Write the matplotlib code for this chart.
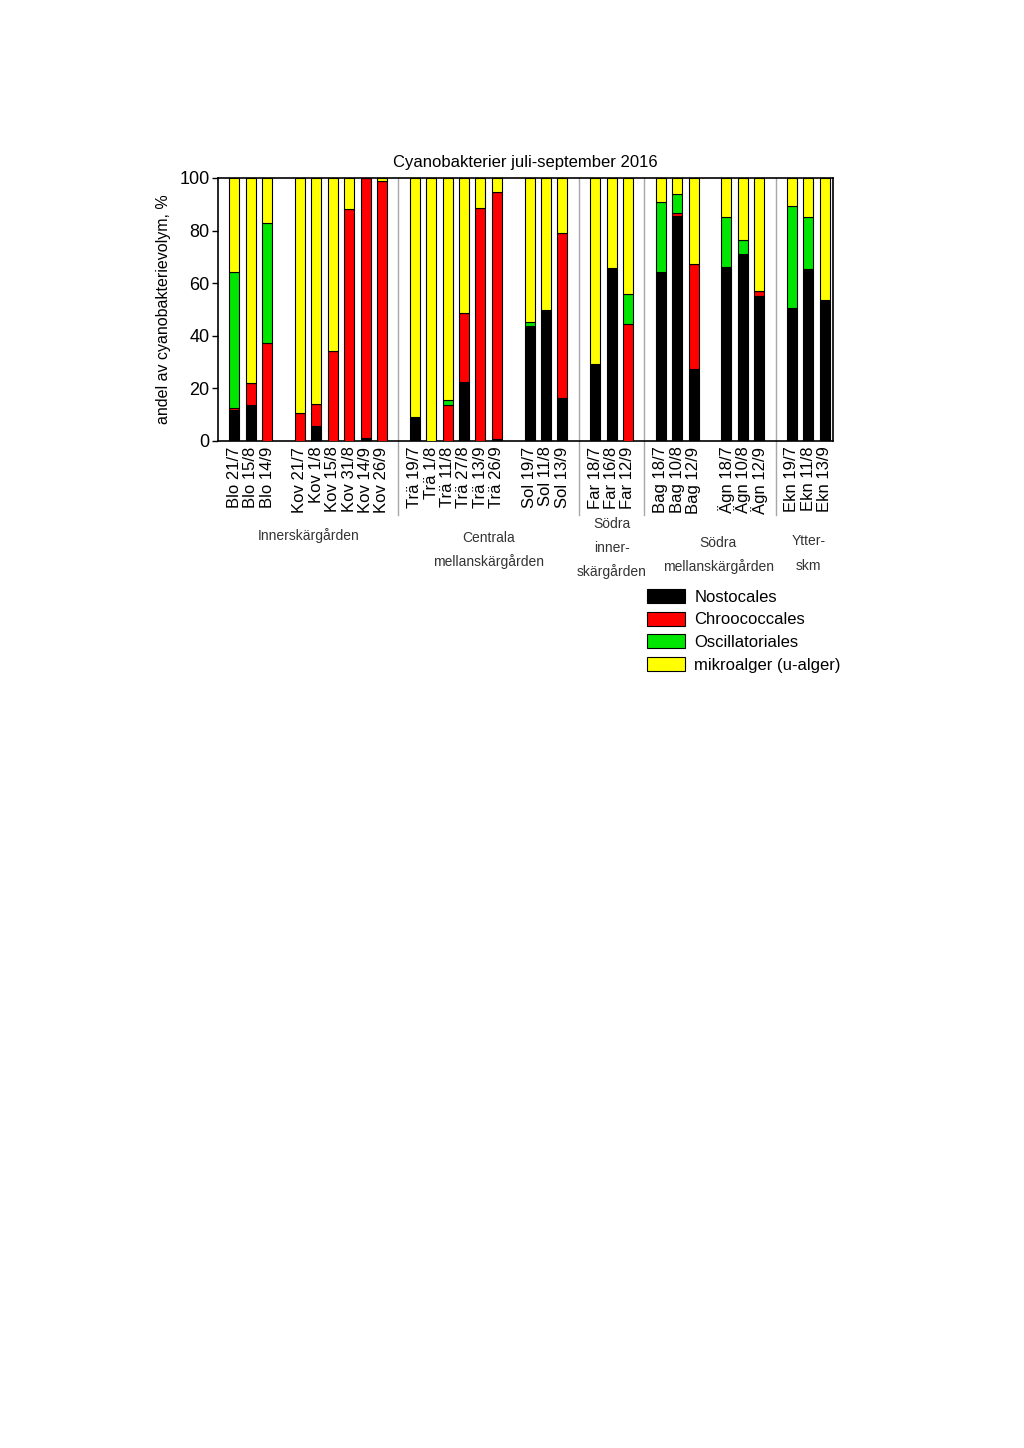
import matplotlib
matplotlib.use("Agg")
import matplotlib.pyplot as plt
from matplotlib.patches import Patch
import matplotlib.transforms as mtransforms
import numpy as np

plt.rcParams['font.family'] = ['Liberation Sans', 'DejaVu Sans']

labels = ["Blo 21/7", "Blo 15/8", "Blo 14/9",
          "Kov 21/7", "Kov 1/8", "Kov 15/8", "Kov 31/8", "Kov 14/9", "Kov 26/9",
          "Trä 19/7", "Trä 1/8", "Trä 11/8", "Trä 27/8", "Trä 13/9", "Trä 26/9",
          "Sol 19/7", "Sol 11/8", "Sol 13/9",
          "Far 18/7", "Far 16/8", "Far 12/9",
          "Bag 18/7", "Bag 10/8", "Bag 12/9",
          "Ägn 18/7", "Ägn 10/8", "Ägn 12/9",
          "Ekn 19/7", "Ekn 11/8", "Ekn 13/9"]
slots = [0, 1, 2,
         4, 5, 6, 7, 8, 9,
         11, 12, 13, 14, 15, 16,
         18, 19, 20,
         22, 23, 24,
         26, 27, 28,
         30, 31, 32,
         34, 35, 36]

nostocales = [11.8, 13.5, 0,
              0, 5.8, 0, 0, 1.3, 0,
              9.1, 0, 0, 22.3, 0, 0.8,
              43.9, 49.9, 16.2,
              29.4, 65.7, 0,
              64.1, 85.7, 27.3,
              66.0, 71.1, 55.3,
              50.5, 65.4, 53.7]
chroococcales = [0.6, 8.7, 37.2,
                 10.5, 8.2, 34.4, 88.2, 98.7, 98.9,
                 0, 0, 13.6, 26.4, 88.6, 93.7,
                 0, 0, 62.9,
                 0, 0, 44.3,
                 0, 1.0, 40.0,
                 0, 0, 1.6,
                 0, 0, 0]
oscillatoriales = [51.8, 0, 45.7,
                   0, 0, 0, 0, 0, 0,
                   0, 0, 2.0, 0, 0, 0,
                   1.3, 0, 0,
                   0, 0, 11.5,
                   26.8, 7.2, 0,
                   19.2, 5.5, 0,
                   38.7, 19.8, 0]
mikroalger = [100 - a - b - c for a, b, c in zip(nostocales, chroococcales, oscillatoriales)]

series_names = ["Nostocales", "Chroococcales", "Oscillatoriales", "mikroalger (u-alger)"]
series_colors = ["#000000", "#ff0000", "#00e600", "#ffff00"]

separators = [10, 21, 25, 33]
groups = [(4.5, ["Innerskärgården"], [536]),
          (15.5, ["Centrala", "mellanskärgården"], [538, 562]),
          (23.0, ["Södra", "inner-", "skärgården"], [524, 548, 572]),
          (29.5, ["Södra", "mellanskärgården"], [543, 567]),
          (35.0, ["Ytter-", "skm"], [541, 566])]

fig = plt.figure(figsize=(10.24, 14.48), dpi=100)
ax = fig.add_axes([218/1024, 1 - 441/1448, (833-218)/1024, (441-178)/1448])

bottom = np.zeros(len(slots))
for vals, name, col in zip([nostocales, chroococcales, oscillatoriales, mikroalger],
                           series_names, series_colors):
    ax.bar(slots, vals, bottom=bottom, width=0.6, color=col, edgecolor='black',
           linewidth=0.8, label=name, zorder=3)
    bottom = bottom + np.array(vals)

trans = mtransforms.blended_transform_factory(ax.transData, ax.transAxes)
for s in separators:
    ax.plot([s, s], [1, -0.28], color='#a8a8a8', lw=1.0, transform=trans,
            clip_on=False, zorder=1)

ax.set_xlim(-1, 36.5)
ax.set_ylim(0, 100)
ax.set_yticks([0, 20, 40, 60, 80, 100])
ax.tick_params(axis='y', labelsize=13, length=4, direction='out', width=1, pad=2)
ax.set_xticks(slots)
ax.set_xticklabels(labels, rotation=90, fontsize=12)
ax.tick_params(axis='x', length=0, pad=4)
for sp in ax.spines.values():
    sp.set_linewidth(1.2)

ax.set_title("Cyanobakterier juli-september 2016", fontsize=12, pad=8)
ax.set_ylabel("andel av cyanobakterievolym, %", fontsize=11.5, labelpad=6)

for x, lines, ys in groups:
    for t, yp in zip(lines, ys):
        ax.text(x, (441 - yp) / 263, t, transform=trans, ha='center', va='center',
                fontsize=10, color='#333333')

handles = [Patch(facecolor=c, edgecolor='black', linewidth=0.8) for c in series_colors]
fig.legend(handles, series_names, loc='upper left', bbox_to_anchor=(647/1024, 1 - 589/1448),
           frameon=False, fontsize=12, handlelength=2.25, handleheight=0.9,
           labelspacing=0.42, handletextpad=0.6, borderaxespad=0, borderpad=0)

fig.savefig("out.png", dpi=100)
